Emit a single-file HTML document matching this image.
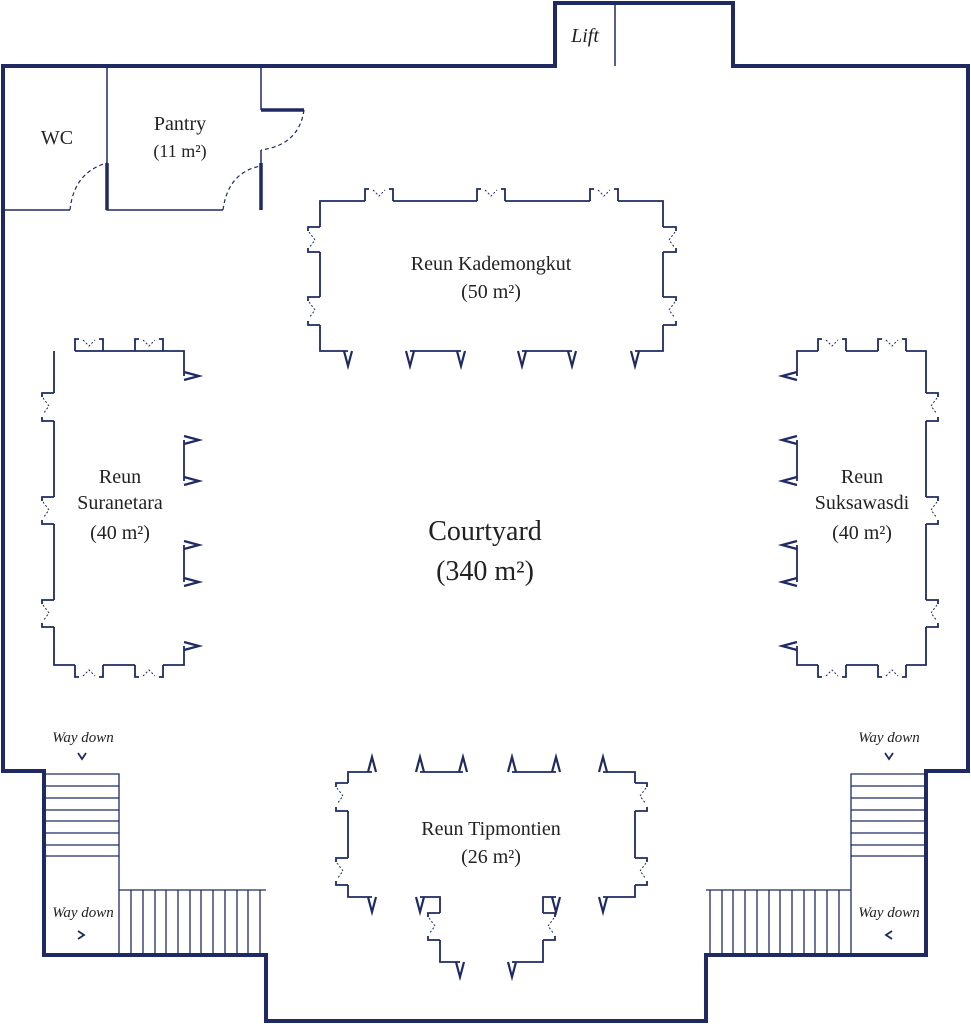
<!DOCTYPE html>
<html><head><meta charset="utf-8"><style>
html,body{margin:0;padding:0;background:#fff}
svg{display:block}
text{font-family:"Liberation Serif",serif;fill:#222}
</style></head><body>
<svg width="971" height="1024" viewBox="0 0 971 1024" xmlns="http://www.w3.org/2000/svg">
<defs>
<g id="vmk"><path d="M-4,0 L0,15 L4,0" fill="none" stroke="#1f2a63" stroke-width="2.2"/></g>
<g id="nicheT"><path d="M0,0 V-12 H4 M28,0 V-12 H24" fill="none" stroke="#1f2a63" stroke-width="1.8"/><path d="M8,-11 L14,-5 L20,-11" fill="none" stroke="#1f2a63" stroke-width="1" stroke-dasharray="2,2"/></g>
<g id="dL"><path d="M0,5 L6,13 L0,21" fill="none" stroke="#1f2a63" stroke-width="1" stroke-dasharray="2,2"/></g>
</defs>
<g fill="none" stroke="#1f2a63">
<path d="M3,66 H555 V3 H733 V66 H968 V771 H926 V955 H706 V1021 H266 V955 H44 V771 H3 Z" stroke-width="4"/>
<line x1="615" y1="3" x2="615" y2="66" stroke-width="1.5"/>
<g stroke-width="1.5">
<path d="M3,210 H70 M107,66 V210 H223 M261,66 V110 M261,150 V163"/>
</g>
<g stroke-width="3.5"><path d="M107,163 V210 M261,110 H304 M261,163 V210"/></g>
<g stroke-width="1.2" stroke-dasharray="4,3">
<path d="M70,210 Q74,172 107,163"/>
<path d="M223,210 Q228,172 261,166"/>
<path d="M304,110 Q299,145 261,150"/>
</g>
<g stroke-width="1.8">
<path d="M348,351 H320 V325 M320,297 V252 M320,227 V201 H365 M393,201 H477 M505,201 H590 M618,201 H663 V227 M663,252 V297 M663,325 V351 H635"/>
<path d="M410,351 H461 M522,351 H572"/>
<path d="M320,227 H308 V231 M320,252 H308 V248 M320,297 H308 V301 M320,325 H308 V321"/>
<path d="M663,227 H676 V231 M663,252 H676 V248 M663,297 H676 V301 M663,325 H676 V321"/>
</g>
<g stroke-width="1.8">
<path d="M184,376 V351 H75 M103,351 H135 M163,351 H184 M54,351 V393 M54,421 V497 M54,524 V600 M54,627 V665 H75 M103,665 H135 M163,665 H184 V646"/>
<path d="M184,440 V481 M184,545 V582"/>
<path d="M54,393 H42 V397 M54,421 H42 V417 M54,497 H42 V501 M54,524 H42 V520 M54,600 H42 V604 M54,627 H42 V623"/>
</g>
<g stroke-width="1.8">
<path d="M797,376 V351 H818 M846,351 H878 M906,351 H926 V393 M926,421 V497 M926,524 V600 M926,627 V665 H906 M878,665 H846 M818,665 H797 V646"/>
<path d="M797,440 V481 M797,545 V582"/>
<path d="M926,393 H938 V397 M926,421 H938 V417 M926,497 H938 V501 M926,524 H938 V520 M926,600 H938 V604 M926,627 H938 V623"/>
</g>
<g stroke-width="1.8">
<path d="M372,772 H348 V783 M348,811 V858 M348,885 V897 H372"/>
<path d="M420,772 H463 M512,772 H556 M603,772 H635 V783 M635,811 V858 M635,885 V897 H603"/>
<path d="M420,897 H440 V913 M440,940 V962 H460 M512,962 H543 V940 M543,913 V897 H556"/>
<path d="M348,783 H336 V787 M348,811 H336 V807 M348,858 H336 V862 M348,885 H336 V881"/>
<path d="M635,783 H647 V787 M635,811 H647 V807 M635,858 H647 V862 M635,885 H647 V881"/>
<path d="M440,913 H428 V917 M440,940 H428 V936 M543,913 H555 V917 M543,940 H555 V936"/>
</g>
<g stroke-width="1.3">
<path d="M44,774 H119 V955 M44,786 H119 M44,798 H119 M44,810 H119 M44,821 H119 M44,833 H119 M44,845 H119 M44,856 H119"/>
<path d="M119,890 H266 M131,890 V955 M143,890 V955 M155,890 V955 M166,890 V955 M178,890 V955 M190,890 V955 M201,890 V955 M213,890 V955 M225,890 V955 M237,890 V955 M248,890 V955 M260,890 V955"/>
</g>
<g stroke-width="1.3">
<path d="M926,774 H851 V955 M926,786 H851 M926,798 H851 M926,810 H851 M926,821 H851 M926,833 H851 M926,845 H851 M926,856 H851"/>
<path d="M851,890 H706 M839,890 V955 M827,890 V955 M815,890 V955 M804,890 V955 M792,890 V955 M780,890 V955 M769,890 V955 M757,890 V955 M745,890 V955 M733,890 V955 M722,890 V955 M710,890 V955"/>
</g>
<g stroke-width="1.8">
<path d="M78,753 L82,759 L86,753 M885,753 L889,759 L893,753 M78,931 L84,935 L78,939 M892,931 L886,935 L892,939"/>
</g>
</g>
<!-- side niche dashes -->
<use href="#dL" x="309" y="227"/><use href="#dL" x="309" y="297"/>
<use href="#dL" transform="translate(675,227) scale(-1,1)"/><use href="#dL" transform="translate(675,297) scale(-1,1)"/>
<use href="#dL" x="43" y="393"/><use href="#dL" x="43" y="497"/><use href="#dL" x="43" y="600"/>
<use href="#dL" transform="translate(937,393) scale(-1,1)"/><use href="#dL" transform="translate(937,497) scale(-1,1)"/><use href="#dL" transform="translate(937,600) scale(-1,1)"/>
<use href="#dL" x="337" y="783"/><use href="#dL" x="337" y="858"/>
<use href="#dL" transform="translate(646,783) scale(-1,1)"/><use href="#dL" transform="translate(646,858) scale(-1,1)"/>
<use href="#dL" x="429" y="913"/><use href="#dL" transform="translate(554,913) scale(-1,1)"/>
<g>
<use href="#vmk" x="348" y="351"/><use href="#vmk" x="410" y="351"/><use href="#vmk" x="461" y="351"/>
<use href="#vmk" x="522" y="351"/><use href="#vmk" x="572" y="351"/><use href="#vmk" x="635" y="351"/>
<use href="#vmk" transform="translate(372,772) scale(1,-1)"/><use href="#vmk" transform="translate(420,772) scale(1,-1)"/>
<use href="#vmk" transform="translate(463,772) scale(1,-1)"/><use href="#vmk" transform="translate(512,772) scale(1,-1)"/>
<use href="#vmk" transform="translate(556,772) scale(1,-1)"/><use href="#vmk" transform="translate(603,772) scale(1,-1)"/>
<use href="#vmk" x="372" y="897"/><use href="#vmk" x="420" y="897"/><use href="#vmk" x="556" y="897"/><use href="#vmk" x="603" y="897"/>
<use href="#vmk" x="460" y="962"/><use href="#vmk" x="512" y="962"/>
<use href="#vmk" transform="translate(184,376) rotate(-90)"/><use href="#vmk" transform="translate(184,440) rotate(-90)"/>
<use href="#vmk" transform="translate(184,481) rotate(-90)"/><use href="#vmk" transform="translate(184,545) rotate(-90)"/>
<use href="#vmk" transform="translate(184,582) rotate(-90)"/><use href="#vmk" transform="translate(184,646) rotate(-90)"/>
<use href="#vmk" transform="translate(797,376) rotate(90)"/><use href="#vmk" transform="translate(797,440) rotate(90)"/>
<use href="#vmk" transform="translate(797,481) rotate(90)"/><use href="#vmk" transform="translate(797,545) rotate(90)"/>
<use href="#vmk" transform="translate(797,582) rotate(90)"/><use href="#vmk" transform="translate(797,646) rotate(90)"/>
</g>
<use href="#nicheT" x="365" y="201"/><use href="#nicheT" x="477" y="201"/><use href="#nicheT" x="590" y="201"/>
<use href="#nicheT" x="75" y="351"/><use href="#nicheT" x="135" y="351"/>
<use href="#nicheT" x="818" y="351"/><use href="#nicheT" x="878" y="351"/>
<use href="#nicheT" transform="translate(75,665) scale(1,-1)"/><use href="#nicheT" transform="translate(135,665) scale(1,-1)"/>
<use href="#nicheT" transform="translate(818,665) scale(1,-1)"/><use href="#nicheT" transform="translate(878,665) scale(1,-1)"/>
<text x="585" y="42" font-size="20" font-style="italic" text-anchor="middle">Lift</text>
<text x="57" y="144" font-size="20" text-anchor="middle">WC</text>
<text x="180" y="130" font-size="20" text-anchor="middle">Pantry</text>
<text x="180" y="157" font-size="18" text-anchor="middle">(11 m²)</text>
<text x="491" y="270" font-size="20" text-anchor="middle">Reun Kademongkut</text>
<text x="491" y="298" font-size="20" text-anchor="middle">(50 m²)</text>
<text x="120" y="483" font-size="20" text-anchor="middle">Reun</text>
<text x="120" y="509" font-size="20" text-anchor="middle">Suranetara</text>
<text x="120" y="539" font-size="20" text-anchor="middle">(40 m²)</text>
<text x="862" y="483" font-size="20" text-anchor="middle">Reun</text>
<text x="862" y="509" font-size="20" text-anchor="middle">Suksawasdi</text>
<text x="862" y="539" font-size="20" text-anchor="middle">(40 m²)</text>
<text x="485" y="540" font-size="28" text-anchor="middle">Courtyard</text>
<text x="485" y="580" font-size="28" text-anchor="middle">(340 m²)</text>
<text x="491" y="835" font-size="20" text-anchor="middle">Reun Tipmontien</text>
<text x="491" y="863" font-size="20" text-anchor="middle">(26 m²)</text>
<text x="83" y="742" font-size="15" font-style="italic" text-anchor="middle" fill="#1f2a63">Way down</text>
<text x="889" y="742" font-size="15" font-style="italic" text-anchor="middle" fill="#1f2a63">Way down</text>
<text x="83" y="917" font-size="15" font-style="italic" text-anchor="middle" fill="#1f2a63">Way down</text>
<text x="889" y="917" font-size="15" font-style="italic" text-anchor="middle" fill="#1f2a63">Way down</text>
</svg>
</body></html>
